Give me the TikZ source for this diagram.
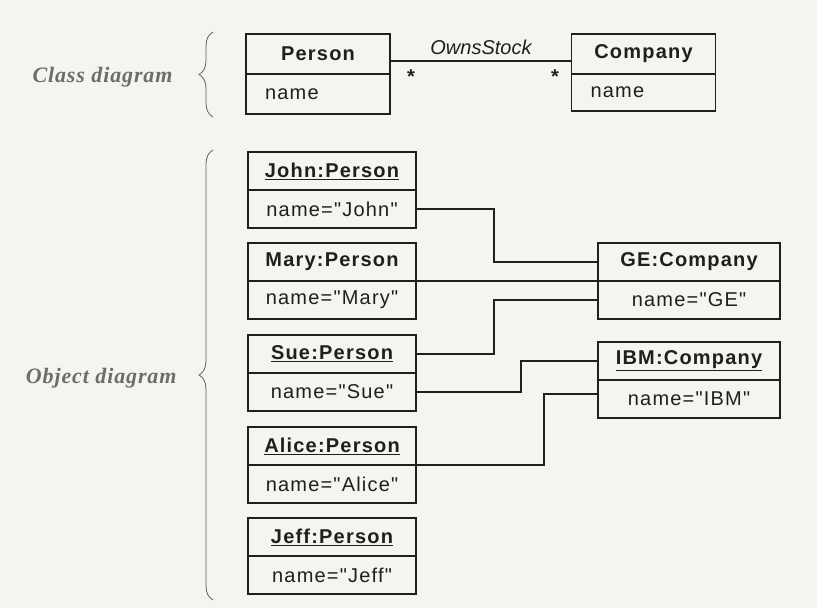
\documentclass[tikz,border=0pt]{standalone}
\usepackage{fontspec}
\setmainfont{Liberation Sans}
\newfontfamily\boxfont[LetterSpace=6]{Liberation Sans}
\newfontfamily\sidefont[LetterSpace=4]{Liberation Serif}
\usetikzlibrary{positioning,decorations.pathreplacing}

\tikzset{
  umlhead/.style={draw=ink, line width=1.4pt, outer sep=0pt, inner sep=0pt,
    minimum width=168pt, minimum height=38pt,
    text=ink, font=\boxfont\fontsize{20}{24}\selectfont\bfseries},
  umlattr/.style={umlhead, font=\boxfont\fontsize{20}{24}\selectfont},
  clsattr/.style={umlattr, minimum width=144pt, text width=106pt, inner xsep=19pt, align=left},
  link/.style={draw=ink, line width=1.1pt},
  mult/.style={text=ink, inner sep=0pt, anchor=base, font=\fontsize{20}{24}\selectfont\bfseries},
  sidebrace/.style={draw=ink!70, line width=0.8pt, decorate, decoration={brace, amplitude=14pt}},
  sidelabel/.style={text=ink!65, anchor=east, font=\sidefont\fontsize{22}{26}\selectfont\bfseries\itshape}
}

\begin{document}
\begin{tikzpicture}[x=1pt, y=-1pt]
  % Define colors
  \definecolor{paper}{RGB}{246,244,239}
  \colorlet{ink}{black!88}

  % Page
  \fill[paper] (0,0) rectangle (817,608);
  \useasboundingbox (0,0) rectangle (817,608);

  % Class diagram
  \node[umlhead, minimum width=144pt, minimum height=40pt] (personhead) at (318,54) {Person};
  \node[clsattr, minimum height=40pt, below=0pt of personhead] (personattr) {name};
  \node[umlhead, minimum width=144pt, minimum height=40pt] (companyhead) at (643.5,54) {Company};
  \node[clsattr, minimum height=37pt, below=0pt of companyhead] (companyattr) {name};

  % Association
  \draw[link] ([yshift=-7pt]personhead.east) -- ([yshift=-7pt]companyhead.west);
  \node[text=ink, font=\fontsize{20}{24}\selectfont\itshape] (owns) at (481,47) {OwnsStock};
  \node[mult] (multp) at (411,83) {*};
  \node[mult] (multc) at (555,83) {*};

  % Person objects
  \node[umlhead] (johnhead) at (332,171) {\underline{John:Person}};
  \node[umlattr, below=0pt of johnhead] (johnattr) {name="John"};
  \node[umlhead] (maryhead) at (332,262) {Mary:Person};
  \node[umlattr, below=0pt of maryhead] (maryattr) {name="Mary"};
  \node[umlhead] (suehead) at (332,354) {\underline{Sue:Person}};
  \node[umlattr, below=0pt of suehead] (sueattr) {name="Sue"};
  \node[umlhead] (alicehead) at (332,446) {\underline{Alice:Person}};
  \node[umlattr, below=0pt of alicehead] (aliceattr) {name="Alice"};
  \node[umlhead] (jeffhead) at (332,537) {\underline{Jeff:Person}};
  \node[umlattr, below=0pt of jeffhead] (jeffattr) {name="Jeff"};

  % Company objects
  \node[umlhead, minimum width=182pt] (gehead) at (689,262) {GE:Company};
  \node[umlattr, minimum width=182pt, below=0pt of gehead] (geattr) {name="GE"};
  \node[umlhead, minimum width=182pt] (ibmhead) at (689,361) {\underline{IBM:Company}};
  \node[umlattr, minimum width=182pt, below=0pt of ibmhead] (ibmattr) {name="IBM"};

  % Links
  \draw[link] (johnattr.east) -- ++(78,0) |- (gehead.west);
  \draw[link] (maryhead.south east) -- (gehead.south west);
  \draw[link] (suehead.east) -- ++(78,0) |- (geattr.west);
  \draw[link] (sueattr.east) -- ++(105,0) |- (ibmhead.west);
  \draw[link] (alicehead.south east) -- ++(128,0) |- ([yshift=5pt]ibmattr.west);

  % Braces and labels
  \draw[sidebrace] (213,117) -- (213,32);
  \draw[sidebrace] (213,600) -- (213,150);
  \node[sidelabel] (classlbl) at (176,77) {Class diagram};
  \node[sidelabel] (objectlbl) at (180,378) {Object diagram};
\end{tikzpicture}
\end{document}
